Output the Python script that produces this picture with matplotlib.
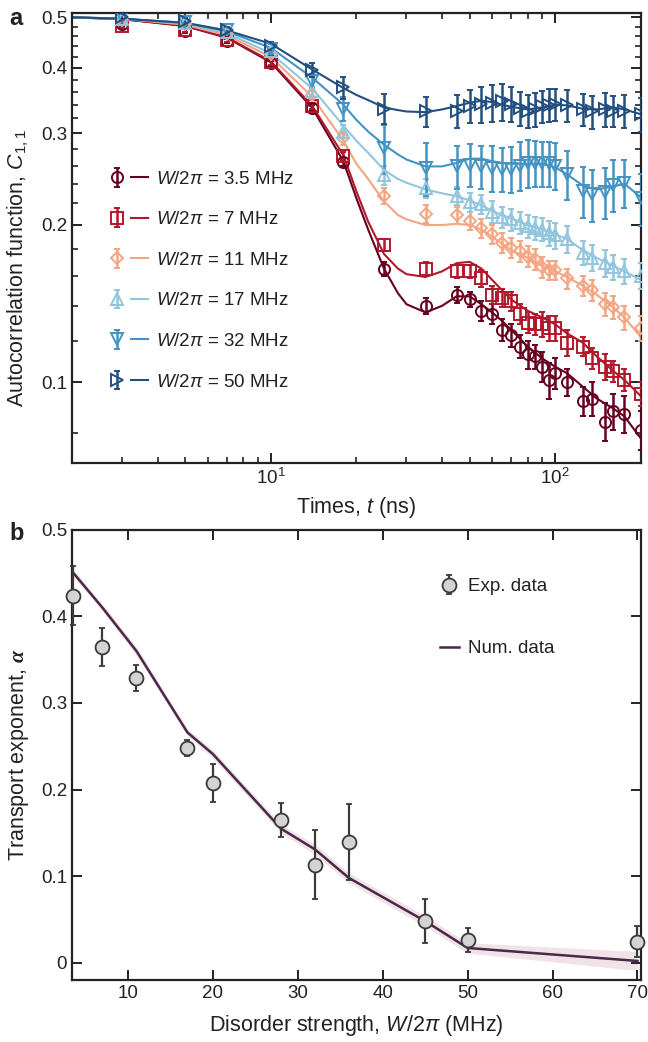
import numpy as np
import matplotlib
matplotlib.use('Agg')
import matplotlib.pyplot as plt
from matplotlib.legend_handler import HandlerTuple
from matplotlib.ticker import NullFormatter

plt.rcParams['font.family'] = ['Liberation Sans', 'DejaVu Sans']
plt.rcParams['font.size'] = 13
plt.rcParams['mathtext.fontset'] = 'custom'
plt.rcParams['mathtext.rm'] = 'Liberation Sans'
plt.rcParams['mathtext.it'] = 'Liberation Sans:italic'
plt.rcParams['mathtext.bf'] = 'Liberation Sans:bold'
plt.rcParams['mathtext.bfit'] = 'Liberation Serif:italic:bold'
plt.rcParams['text.color'] = '#222222'
plt.rcParams['axes.labelcolor'] = '#222222'
plt.rcParams['xtick.color'] = '#222222'
plt.rcParams['ytick.color'] = '#222222'

# ---- panel a: measured autocorrelation ----
disorder = ['3.5', '7', '11', '17', '32', '50']
colors = ['#67001f', '#b2182b', '#f4a582', '#92c5de', '#4393c3', '#234f80']
markers = ['o', 's', 'D', '^', 'v', '>']

t_exp = [3, 5, 7, 10, 14, 18, 25, 35, 45, 50, 55, 60, 65, 70, 75, 80, 85, 90,
         95, 100, 110, 125, 135, 150, 160, 175, 200]

c_35 = [0.485, 0.470, 0.450, 0.408, 0.335, 0.264, 0.165, 0.140, 0.147, 0.144, 0.137, 0.135, 0.126, 0.123,
        0.117, 0.113, 0.112, 0.107, 0.101, 0.104, 0.100, 0.092, 0.093, 0.084, 0.088, 0.087, 0.081]
c_7 = [0.482, 0.472, 0.452, 0.410, 0.338, 0.271, 0.183, 0.165, 0.163, 0.163, 0.158, 0.147, 0.145, 0.143,
       0.135, 0.130, 0.129, 0.129, 0.127, 0.127, 0.119, 0.117, 0.111, 0.107, 0.105, 0.101, 0.095]
c_11 = [0.495, 0.485, 0.465, 0.425, 0.355, 0.293, 0.227, 0.210, 0.209, 0.204, 0.197, 0.192, 0.185, 0.181,
        0.178, 0.174, 0.172, 0.166, 0.164, 0.164, 0.158, 0.153, 0.150, 0.141, 0.139, 0.133, 0.127]
c_17 = [0.497, 0.488, 0.468, 0.430, 0.362, 0.302, 0.249, 0.235, 0.227, 0.221, 0.219, 0.212, 0.207, 0.205,
        0.202, 0.199, 0.197, 0.196, 0.193, 0.191, 0.188, 0.177, 0.173, 0.169, 0.166, 0.163, 0.160]
c_32 = [0.500, 0.490, 0.472, 0.435, 0.378, 0.334, 0.281, 0.257, 0.259, 0.261, 0.259, 0.257, 0.256, 0.256,
        0.260, 0.263, 0.263, 0.263, 0.263, 0.260, 0.250, 0.232, 0.229, 0.231, 0.239, 0.241, 0.225]
c_50 = [0.500, 0.493, 0.473, 0.441, 0.397, 0.367, 0.334, 0.330, 0.331, 0.338, 0.341, 0.343, 0.345, 0.341,
        0.335, 0.331, 0.333, 0.338, 0.340, 0.341, 0.339, 0.333, 0.330, 0.333, 0.331, 0.331, 0.326]

err_35 = [0.004, 0.004, 0.004, 0.004, 0.004, 0.005, 0.005, 0.005, 0.005, 0.005, 0.006, 0.006, 0.006, 0.006,
          0.006, 0.007, 0.006, 0.007, 0.008, 0.007, 0.006, 0.006, 0.007, 0.007, 0.007, 0.007, 0.007]
err_7 = [0.004, 0.004, 0.004, 0.004, 0.004, 0.005, 0.005, 0.005, 0.005, 0.005, 0.006, 0.006, 0.006, 0.006,
         0.006, 0.006, 0.006, 0.007, 0.007, 0.007, 0.007, 0.005, 0.005, 0.006, 0.005, 0.005, 0.005]
err_11 = [0.005, 0.005, 0.005, 0.006, 0.007, 0.008, 0.008, 0.008, 0.008, 0.008, 0.008, 0.008, 0.008, 0.008,
          0.008, 0.008, 0.008, 0.008, 0.007, 0.007, 0.007, 0.007, 0.007, 0.007, 0.007, 0.007, 0.007]
err_17 = [0.005, 0.005, 0.006, 0.007, 0.008, 0.009, 0.010, 0.010, 0.009, 0.009, 0.009, 0.010, 0.010, 0.010,
          0.010, 0.010, 0.010, 0.010, 0.011, 0.011, 0.011, 0.009, 0.010, 0.010, 0.009, 0.009, 0.009]
err_32 = [0.006, 0.006, 0.007, 0.009, 0.012, 0.018, 0.030, 0.030, 0.025, 0.025, 0.025, 0.026, 0.025, 0.026,
          0.028, 0.028, 0.027, 0.026, 0.026, 0.027, 0.027, 0.026, 0.026, 0.026, 0.027, 0.025, 0.026]
err_50 = [0.006, 0.006, 0.007, 0.008, 0.012, 0.018, 0.022, 0.022, 0.024, 0.025, 0.027, 0.028, 0.028, 0.026,
          0.025, 0.024, 0.025, 0.024, 0.025, 0.024, 0.024, 0.024, 0.024, 0.025, 0.023, 0.024, 0.025]

# fitted curves
t_fit = [2, 3, 5, 7, 10, 14, 18, 20, 22, 25, 28, 30, 35, 40, 45, 50, 55, 60, 65, 70, 80, 90, 100,
         110, 125, 140, 160, 175, 200]
f_35 = [0.500, 0.496, 0.481, 0.457, 0.410, 0.335, 0.265, 0.225, 0.196, 0.165, 0.148, 0.141, 0.136, 0.140,
        0.146, 0.146, 0.141, 0.136, 0.131, 0.126, 0.117, 0.111, 0.107, 0.104, 0.098, 0.093, 0.089, 0.086, 0.078]
f_7 = [0.500, 0.496, 0.482, 0.458, 0.412, 0.338, 0.272, 0.232, 0.203, 0.176, 0.165, 0.161, 0.159, 0.163,
       0.169, 0.170, 0.165, 0.157, 0.150, 0.144, 0.137, 0.133, 0.129, 0.124, 0.119, 0.112, 0.105, 0.101, 0.094]
f_11 = [0.500, 0.497, 0.484, 0.462, 0.420, 0.352, 0.290, 0.262, 0.245, 0.222, 0.209, 0.205, 0.200, 0.200,
        0.201, 0.200, 0.196, 0.190, 0.184, 0.179, 0.173, 0.167, 0.163, 0.159, 0.153, 0.147, 0.139, 0.133, 0.122]
f_17 = [0.500, 0.497, 0.486, 0.466, 0.427, 0.365, 0.310, 0.290, 0.275, 0.255, 0.245, 0.241, 0.234, 0.230,
        0.227, 0.223, 0.218, 0.213, 0.209, 0.206, 0.200, 0.196, 0.192, 0.188, 0.179, 0.173, 0.167, 0.163, 0.157]
f_32 = [0.500, 0.497, 0.488, 0.470, 0.437, 0.383, 0.340, 0.318, 0.302, 0.285, 0.273, 0.267, 0.259, 0.259,
        0.263, 0.268, 0.268, 0.265, 0.263, 0.262, 0.262, 0.262, 0.258, 0.250, 0.238, 0.234, 0.237, 0.240, 0.226]
f_50 = [0.500, 0.497, 0.488, 0.472, 0.445, 0.397, 0.366, 0.355, 0.347, 0.336, 0.332, 0.330, 0.329, 0.333,
        0.338, 0.343, 0.346, 0.344, 0.340, 0.337, 0.333, 0.336, 0.340, 0.339, 0.334, 0.333, 0.336, 0.333, 0.326]

c_all = [c_35, c_7, c_11, c_17, c_32, c_50]
err_all = [err_35, err_7, err_11, err_17, err_32, err_50]
f_all = [f_35, f_7, f_11, f_17, f_32, f_50]

# ---- panel b: transport exponent ----
w_vals = [3.5, 7, 11, 17, 20, 28, 32, 36, 45, 50, 70]
alpha_exp = [0.424, 0.365, 0.329, 0.248, 0.208, 0.165, 0.113, 0.139, 0.048, 0.026, 0.024]
alpha_err = [0.034, 0.022, 0.015, 0.009, 0.022, 0.020, 0.040, 0.044, 0.025, 0.014, 0.018]
alpha_num = [0.451, 0.410, 0.360, 0.266, 0.241, 0.155, 0.131, 0.098, 0.048, 0.017, 0.002]
alpha_num_err = [0.004, 0.004, 0.005, 0.004, 0.005, 0.005, 0.006, 0.006, 0.006, 0.006, 0.011]

fig = plt.figure(figsize=(6.48, 10.42), dpi=100)
ax1 = fig.add_axes([0.111, 0.5557, 0.878, 0.432])
ax2 = fig.add_axes([0.111, 0.0595, 0.878, 0.432])

handles = []
for lab, col, mk, c, e, f in zip(disorder, colors, markers, c_all, err_all, f_all):
    ln, = ax1.plot(t_fit, f, color=col, lw=1.5, zorder=2)
    ms = 6.5 if mk == 'D' else 8
    eb = ax1.errorbar(t_exp, c, yerr=e, fmt=mk, ms=ms, mfc='none', mec=col, mew=1.4,
                      ecolor=col, elinewidth=1.8, capsize=2.5, capthick=1.8, zorder=3)
    handles.append((eb, ln))

ax1.set_xscale('log')
ax1.set_yscale('log')
ax1.set_xlim(2, 200)
ax1.set_ylim(0.07, 0.51)
ax1.set_yticks([0.1, 0.2, 0.3, 0.4, 0.5])
ax1.set_yticklabels(['0.1', '0.2', '0.3', '0.4', '0.5'])
ax1.set_yticks(np.arange(0.08, 0.5, 0.02), minor=True)
ax1.yaxis.set_minor_formatter(NullFormatter())
ax1.set_xlabel('Times, $t$ (ns)', fontsize=15.5, labelpad=5)
ax1.set_ylabel('Autocorrelation function, $C_{1,1}$', fontsize=15.5)
ax1.yaxis.set_label_coords(-0.072, 0.433)

labels = [r'$W/2\pi$ = ' + d + ' MHz' for d in disorder]
ax1.legend(handles, labels, handler_map={tuple: HandlerTuple(ndivide=None, pad=0.25)},
           loc='center left', bbox_to_anchor=(0.035, 0.405), frameon=False,
           handlelength=2.1, handletextpad=0.4, labelspacing=1.25, fontsize=13.5)

ax2.fill_between(w_vals, np.array(alpha_num) - np.array(alpha_num_err),
                 np.array(alpha_num) + np.array(alpha_num_err), color='#ecdde3', alpha=0.8, lw=0)
num_ln, = ax2.plot(w_vals, alpha_num, color='#4b2748', lw=1.8)
exp_eb = ax2.errorbar(w_vals, alpha_exp, yerr=alpha_err, fmt='o', ms=10, mfc='#d3d3d3', mec='#3a3a3a',
                      mew=1.3, ecolor='#3a3a3a', elinewidth=1.6, capsize=2.5, capthick=1.6,
                      zorder=4, clip_on=False)
ax2.set_xlim(3.4, 70.4)
ax2.set_ylim(-0.02, 0.5)
ax2.set_xticks([10, 20, 30, 40, 50, 60, 70])
ax2.set_yticks([0, 0.1, 0.2, 0.3, 0.4, 0.5])
ax2.set_yticklabels(['0', '0.1', '0.2', '0.3', '0.4', '0.5'])
ax2.set_xlabel(r'Disorder strength, $W/2\pi$ (MHz)', fontsize=15.5, labelpad=8)
ax2.set_ylabel(r'Transport exponent, $\boldsymbol{\alpha}$', fontsize=15.5)
ax2.yaxis.set_label_coords(-0.072, 0.5)
ax2.legend([exp_eb, num_ln], ['Exp. data', 'Num. data'], loc='center left',
           bbox_to_anchor=(0.617, 0.805), frameon=False, handlelength=1.0,
           handletextpad=0.5, labelspacing=2.4, fontsize=13.5)

for ax in (ax1, ax2):
    for s in ax.spines.values():
        s.set_linewidth(1.6)
        s.set_color('#222222')
    ax.tick_params(which='both', direction='in', top=True, right=True, labelsize=13.5)
    ax.tick_params(which='major', length=7, width=1.4)
    ax.tick_params(which='minor', length=4.5, width=1.2)

fig.text(0.015, 0.982, 'a', fontsize=17, fontweight='bold', va='center')
fig.text(0.015, 0.488, 'b', fontsize=17, fontweight='bold', va='center')

fig.savefig('out.png', dpi=100)
